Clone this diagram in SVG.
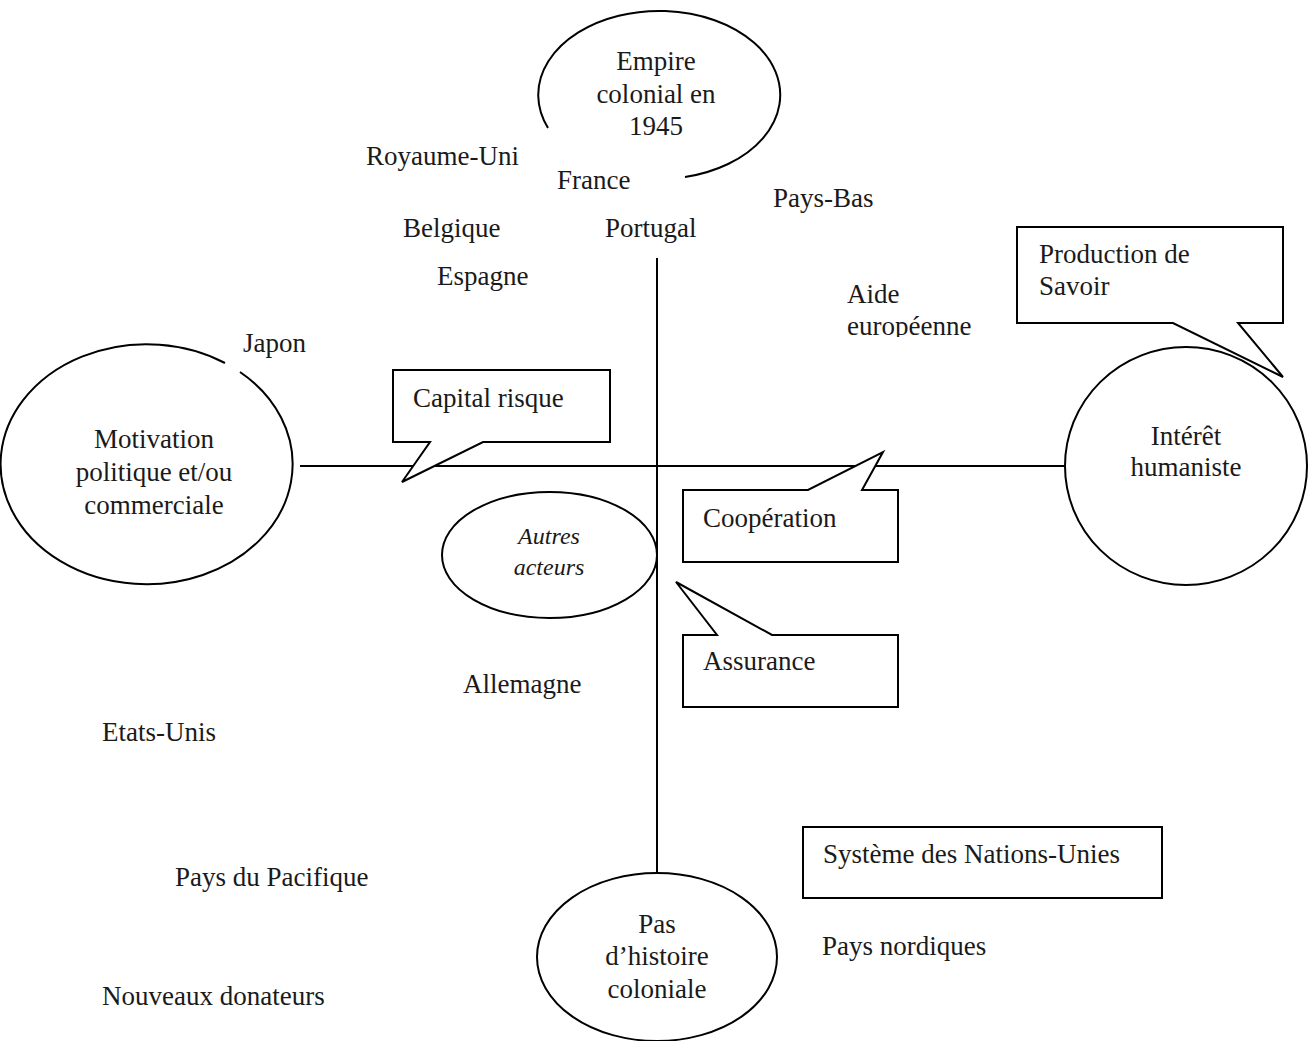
<svg xmlns="http://www.w3.org/2000/svg" width="1312" height="1041" viewBox="0 0 1312 1041">
<defs>
<style>
.t{font-family:"Liberation Serif","Times New Roman",serif;font-size:27px;fill:#1a1a1a}
.c{text-anchor:middle}
.i{font-style:italic;font-size:24px}
.s{fill:#fff;stroke:#000;stroke-width:2}
.n{fill:none;stroke:#000;stroke-width:2}
</style>
<clipPath id="clipAide"><rect x="830" y="270" width="200" height="67"/></clipPath>
</defs>
<rect width="1312" height="1041" fill="#fff"/>
<g id="connectors">
<line class="n" x1="300" y1="466" x2="1066" y2="466"/>
<line class="n" x1="657" y1="258" x2="657" y2="873"/>
</g>
<g id="empire">
<path class="n" d="M548,128 A121,84 0 1 1 685,177"/>
<text class="t c" x="656" y="70">Empire</text>
<text class="t c" x="656" y="103">colonial en</text>
<text class="t c" x="656" y="135">1945</text>
</g>
<g id="motivation">
<path class="n" d="M240,372 A146,120 0 1 1 225,363"/>
<text class="t c" x="154" y="448">Motivation</text>
<text class="t c" x="154" y="481">politique et/ou</text>
<text class="t c" x="154" y="514">commerciale</text>
</g>
<g id="interet">
<ellipse class="s" cx="1186" cy="466" rx="121" ry="119"/>
<text class="t c" x="1186" y="445">Intérêt</text>
<text class="t c" x="1186" y="476">humaniste</text>
</g>
<g id="pas-histoire">
<ellipse class="s" cx="657" cy="957" rx="120" ry="84"/>
<text class="t c" x="657" y="933">Pas</text>
<text class="t c" x="657" y="965">d’histoire</text>
<text class="t c" x="657" y="998">coloniale</text>
</g>
<g id="autres-acteurs">
<ellipse class="n" cx="549.5" cy="555" rx="107.5" ry="63"/>
<text class="t c i" x="549" y="544">Autres</text>
<text class="t c i" x="549" y="575">acteurs</text>
</g>
<g id="production-savoir">
<path class="s" d="M1017,227 H1283 V323 H1238 L1283,377 L1173,323 H1017 Z"/>
<text class="t" x="1039" y="263">Production de</text>
<text class="t" x="1039" y="295">Savoir</text>
</g>
<g id="capital-risque">
<path class="s" d="M393,370 H610 V442 H483 L402,482 L430,442 H393 Z"/>
<text class="t" x="413" y="407">Capital risque</text>
</g>
<g id="cooperation">
<path class="s" d="M683,490 H808 L883,452 L862,490 H898 V562 H683 Z"/>
<text class="t" x="703" y="527">Coopération</text>
</g>
<g id="assurance">
<path class="s" d="M683,635 H717 L676,582 L772,635 H898 V707 H683 Z"/>
<text class="t" x="703" y="670">Assurance</text>
</g>
<g id="systeme-nu">
<rect class="s" x="803" y="827" width="359" height="71"/>
<text class="t" x="823" y="863">Système des Nations-Unies</text>
</g>
<g id="labels">
<text class="t" x="366" y="165">Royaume-Uni</text>
<text class="t" x="557" y="189">France</text>
<text class="t" x="773" y="207">Pays-Bas</text>
<text class="t" x="403" y="237">Belgique</text>
<text class="t" x="605" y="237">Portugal</text>
<text class="t" x="437" y="285">Espagne</text>
<g clip-path="url(#clipAide)">
<text class="t" x="847" y="303">Aide</text>
<text class="t" x="847" y="335">européenne</text>
</g>
<text class="t" x="243" y="352">Japon</text>
<text class="t" x="463" y="693">Allemagne</text>
<text class="t" x="102" y="741">Etats-Unis</text>
<text class="t" x="175" y="886">Pays du Pacifique</text>
<text class="t" x="822" y="955">Pays nordiques</text>
<text class="t" x="102" y="1005">Nouveaux donateurs</text>
</g>
</svg>
